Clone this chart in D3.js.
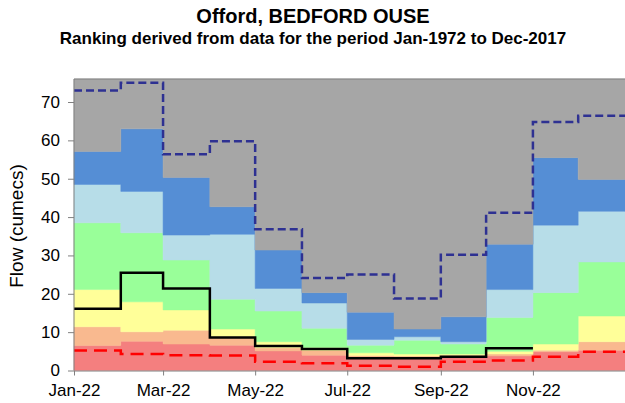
<!DOCTYPE html>
<html><head><meta charset="utf-8">
<script src="https://cdn.jsdelivr.net/npm/d3@7"></script>
<style>body{margin:0;background:#fff}svg{display:block;font-family:"Liberation Sans",Arial,sans-serif}</style>
</head><body><svg id="c" width="625" height="403"></svg>
<script>
const months = ["2022-01","2022-02","2022-03","2022-04","2022-05","2022-06","2022-07","2022-08","2022-09","2022-10","2022-11","2022-12"];
const bandRed    = [6.5, 7.6, 6.9, 6.6, 5.1, 4.0, 3.4, 3.4, 3.6, 3.8, 4.9, 5.3];
const bandOrange = [11.4,10.1,10.5,8.8, 5.9, 5.2, 3.9, 3.8, 4.0, 4.3, 5.3, 7.5];
const bandYellow = [21.1,17.9,15.8,10.8,7.5, 6.0, 4.6, 4.3, 4.3, 5.0, 6.9, 14.2];
const bandGreen  = [38.5,35.9,28.8,18.6,15.5,11.0,6.6, 7.9, 6.9, 13.8,20.3,28.3];
const bandLBlue  = [48.5,46.7,35.3,35.5,21.4,17.6,8.1, 8.8, 7.5, 21.1,37.9,41.5];
const bandBlue   = [57.1,63.0,50.3,42.7,31.4,20.3,15.2,10.8,14.0,32.9,55.5,49.8];
const maxFlow    = [73.0,75.0,56.4,59.8,36.8,24.1,25.0,18.8,30.2,41.1,64.8,66.4];
const minFlow    = [5.2, 4.3, 4.0, 3.9, 2.3, 1.9, 1.25,1.0, 2.3, 2.6, 3.6, 4.9];
const flow2022   = [16.1,25.5,21.4,8.6,6.4,5.6,3.2,3.2,3.6,5.8];
const yTicks = [0,10,20,30,40,50,60,70];
const xTickLabels = ["Jan-22","Mar-22","May-22","Jul-22","Sep-22","Nov-22"];
const xTickDates = ["2022-01","2022-03","2022-05","2022-07","2022-09","2022-11"];

const svg = d3.select("#c");
const L=74, R=625, T=79, B=370.5;
const parse = s => { const [y,m]=s.split("-").map(Number); return new Date(Date.UTC(y,m-1,1)); };
const x = d3.scaleUtc().domain([parse("2022-01"), new Date(Date.UTC(2023,0,1))]).range([L,R]);
const y = d3.scaleLinear().domain([0,76]).range([B,T]);
const dates = months.map(parse);
const endDate = new Date(Date.UTC(2023,0,1));

function stepPts(vals){
  const pts = vals.map((v,i)=>[dates[i], v]);
  const last = vals.length < 12 ? dates[vals.length] : endDate;
  pts.push([last, vals[vals.length-1]]);
  return pts;
}
const bands = [
  {top:bandRed, bot:null, color:"#f47f7f"},
  {top:bandOrange, bot:bandRed, color:"#f9b98f"},
  {top:bandYellow, bot:bandOrange, color:"#ffff99"},
  {top:bandGreen, bot:bandYellow, color:"#99ff99"},
  {top:bandLBlue, bot:bandGreen, color:"#b7dde8"},
  {top:bandBlue, bot:bandLBlue, color:"#558ed5"},
  {top:months.map(()=>76), bot:bandBlue, color:"#a6a6a6"}
];
const area = d3.area().curve(d3.curveStepAfter).x(d=>x(d.d)).y0(d=>y(d.b)).y1(d=>y(d.t));
bands.forEach(b=>{
  const pts = months.map((m,i)=>({d:dates[i], t:b.top[i], b:b.bot?b.bot[i]:0}));
  pts.push({d:endDate, t:b.top[11], b:b.bot?b.bot[11]:0});
  svg.append("path").attr("d",area(pts)).attr("fill",b.color).attr("stroke",b.color).attr("stroke-width",0.5);
});
const line = d3.line().curve(d3.curveStepAfter).x(d=>x(d[0])).y(d=>y(d[1]));
svg.append("path").attr("d",line(stepPts(maxFlow))).attr("fill","none").attr("stroke","#2e3192").attr("stroke-width",2.5).attr("stroke-dasharray","8,4");
svg.append("path").attr("d",line(stepPts(minFlow))).attr("fill","none").attr("stroke","#ff0000").attr("stroke-width",2.5).attr("stroke-dasharray","13,7");
svg.append("path").attr("d",line(stepPts(flow2022))).attr("fill","none").attr("stroke","#000").attr("stroke-width",2.5);

svg.append("line").attr("x1",L).attr("x2",R).attr("y1",T).attr("y2",T).attr("stroke","#808080").attr("stroke-width",1);
const ya = svg.append("g").attr("transform",`translate(${L},0)`).call(d3.axisLeft(y).tickValues(yTicks).tickSize(6).tickSizeOuter(0));
ya.select(".domain").attr("stroke","#808080").attr("d",`M0,${B}V${T}`);
ya.selectAll(".tick line").attr("stroke","#808080");
ya.selectAll(".tick text").attr("font-size",17).attr("fill","#000").attr("x",-14).attr("font-family","Liberation Sans, Arial, sans-serif");
const xa = svg.append("g").attr("transform",`translate(0,${B})`).call(d3.axisBottom(x).tickValues(xTickDates.map(parse)).tickFormat((d,i)=>xTickLabels[i]).tickSize(5).tickSizeOuter(0));
xa.select(".domain").attr("stroke","#808080");
xa.selectAll(".tick line").attr("stroke","#808080");
xa.selectAll(".tick text").attr("font-size",17).attr("fill","#000").attr("dy","1.05em").attr("font-family","Liberation Sans, Arial, sans-serif");

svg.append("text").attr("x",313).attr("y",23).attr("text-anchor","middle").attr("font-weight","bold").attr("font-size",20).text("Offord, BEDFORD OUSE");
svg.append("text").attr("x",313).attr("y",44).attr("text-anchor","middle").attr("font-weight","bold").attr("font-size",17).text("Ranking derived from data for the period Jan-1972 to Dec-2017");
svg.append("text").attr("transform","translate(23,226) rotate(-90)").attr("text-anchor","middle").attr("font-size",19).text("Flow (cumecs)");
</script></body></html>
